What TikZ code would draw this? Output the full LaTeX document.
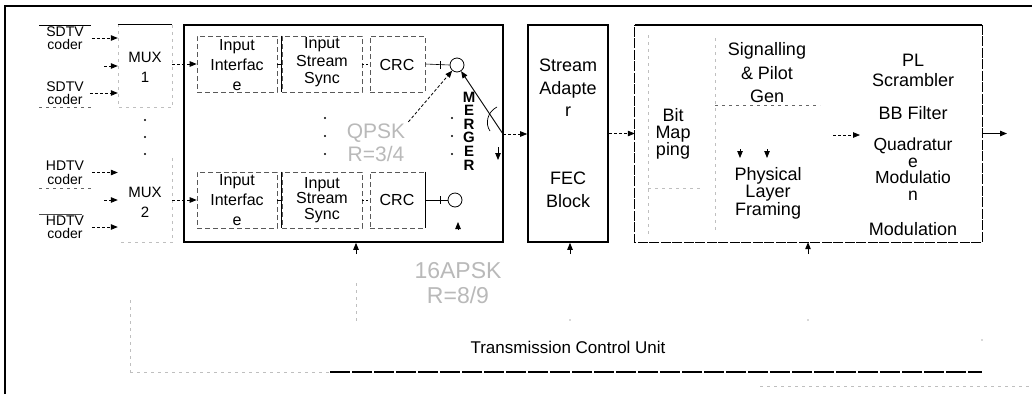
\documentclass[tikz,border=0pt]{standalone}
\usepackage{fontspec}
\setmainfont{Liberation Sans}
\usetikzlibrary{arrows.meta,calc}
\newcommand{\fsz}[2]{\fontsize{#1}{#2}\selectfont}
\begin{document}
\begin{tikzpicture}[x=1pt,y=-1pt,
  lbl/.style={align=center,inner sep=0pt},
  blk/.style={inner sep=0pt,line width=1.6pt},
  subbox/.style={draw=black!65,line width=0.6pt,dash pattern=on 5pt off 3pt,inner sep=0pt},
  faint/.style={draw=gray!50,line width=0.6pt,dash pattern=on 3pt off 4pt},
  arr/.style={-{Triangle[length=7pt,width=5.5pt]},line width=0.8pt},
  darr/.style={arr,dash pattern=on 3pt off 2pt},
  ghost/.style={lbl,text=gray!55},
]
\useasboundingbox (0,0) rectangle (1032,394);

% outer frame
\draw[line width=1.4pt] (5,394) -- (5,6) -- (1032,6);
\draw[faint] (760,386) -- (1032,386);

% coders
\node[lbl,font=\fsz{14}{13.5}] (sd1) at (65,38) {SDTV\\coder};
\node[lbl,font=\fsz{14}{13.5}] (sd2) at (65,93) {SDTV\\coder};
\node[lbl,font=\fsz{14}{14}] (hd1) at (65,172.5) {HDTV\\coder};
\node[lbl,font=\fsz{14}{13.5}] (hd2) at (65,227) {HDTV\\coder};
\draw[line width=0.8pt] (39,25) -- (91,25);
\draw[faint,draw=black!60] (39,107) -- (91,107);
\draw[faint,draw=black!60] (39,188) -- (91,188);
\draw[line width=0.6pt,draw=black!70] (39,214) -- (82,214);

% multiplexers
\node[inner sep=0pt,minimum width=54pt,minimum height=82pt] (mux1) at (145,66) {};
\draw[faint] (mux1.north east) -- (mux1.south east) -- (mux1.south west) -- (mux1.north west);
\draw[line width=0.8pt] (mux1.north west) -- (mux1.north east);
\node[lbl,font=\fsz{15}{20}] (mux1t) at (145,67) {MUX\\1};
\node[inner sep=0pt,minimum width=54pt,minimum height=84pt] (mux2) at (145,200) {};
\draw[faint] (mux2.north east) -- (mux2.south east) -- (mux2.south west);
\node[lbl,font=\fsz{15}{20}] (mux2t) at (145,202) {MUX\\2};
\foreach \y in {120,137,154} \fill (145,\y) circle (1.2pt);

% coder to mux arrows
\draw[darr] ([xshift=8pt]sd1.east) -- (sd1.east -| mux1.west);
\draw[darr] ([xshift=6pt]sd2.east) -- (sd2.east -| mux1.west);
\draw[darr] ([xshift=8pt]hd1.east) -- (hd1.east -| mux2.west);
\draw[darr] ([xshift=8pt]hd2.east) -- (hd2.east -| mux2.west);
\coordinate (m1in) at (104,66);
\coordinate (m2in) at (104,200);
\draw[darr] (m1in) -- (m1in -| mux1.west);
\draw[darr] (m2in) -- (m2in -| mux2.west);

% input processing block
\node[draw,blk,minimum width=319pt,minimum height=217pt] (b1) at (343.5,133.5) {};
\node[subbox,minimum width=80pt,minimum height=56pt] (ii1) at (237,64) {};
\node[subbox,minimum width=80pt,minimum height=56pt] (iss1) at (322,64) {};
\node[subbox,minimum width=55pt,minimum height=56pt] (crc1) at (397.5,64) {};
\node[subbox,minimum width=80pt,minimum height=56pt] (ii2) at (237,200) {};
\node[subbox,minimum width=80pt,minimum height=56pt] (iss2) at (322,200) {};
\node[subbox,minimum width=55pt,minimum height=56pt] (crc2) at (397.5,200) {};
\draw[line width=0.8pt] (iss1.north west) -- (iss1.south west);
\draw[line width=0.8pt] (iss2.north west) -- (iss2.south west);
\draw[line width=0.8pt] (crc2.north east) -- (crc2.south east);
\node[lbl,font=\fsz{16}{20}] (ii1t) at (237,65) {Input\\Interfac\\e};
\node[lbl,font=\fsz{16}{17.5}] (iss1t) at (322,62.5) {Input\\Stream\\Sync};
\node[lbl,font=\fsz{16}{20}] (crc1t) at (397,65) {CRC};
\node[lbl,font=\fsz{16}{20}] (ii2t) at (237,200) {Input\\Interfac\\e};
\node[lbl,font=\fsz{16}{15.5}] (iss2t) at (322,200) {Input\\Stream\\Sync};
\node[lbl,font=\fsz{16}{20}] (crc2t) at (397,200) {CRC};
\draw[darr] (ii1.west -| mux1.east) -- (ii1.west);
\draw[darr] (ii2.west -| mux2.east) -- (ii2.west);

% merger
\node[circle,draw,line width=0.8pt,minimum size=14pt,inner sep=0pt] (c1) at (457,65) {};
\node[circle,draw,line width=0.8pt,minimum size=14pt,inner sep=0pt] (c2) at (455,200) {};
\draw[line width=0.6pt] (ii1.east) -- (iss1.west);
\draw[line width=0.6pt,dash pattern=on 2pt off 2pt] (iss1.east) -- (crc1.west);
\draw[line width=0.6pt] (crc1.east) -- (c1.west);
\draw[line width=0.6pt] (ii2.east) -- (iss2.west);
\draw[line width=0.6pt,dash pattern=on 2pt off 2pt] (iss2.east) -- (crc2.west);
\draw[line width=0.6pt] (crc2.east) -- (c2.west);
\draw[line width=0.6pt] (440,61) -- (440,69);
\draw[line width=0.6pt] (440,196) -- (440,204);
\foreach \y in {118,136,154} {\fill (325,\y) circle (1.2pt); \fill (452,\y) circle (1.2pt);}
\node[ghost,font=\fsz{21}{23}] (qp) at (376,143) {QPSK\\R=3/4};
\node[lbl,font=\fsz{15}{13.6}\bfseries] (mg) at (469,131) {M\\E\\R\\G\\E\\R};
\coordinate (sw) at (503,134);
\draw[arr,line width=0.9pt] (sw) -- (c1);
\draw[darr] ([shift={(3,-2)}]qp.north east) -- (c1);
\draw[line width=0.7pt] (497,107) .. controls (487,112) and (485,124) .. (490,131);
\coordinate (dn) at (498,147);
\draw[arr] (dn) -- ++(0,13);
\coordinate (c2a) at (458,230);
\draw[arr] (c2a) -- ++(0,-8);

% stream adapter
\node[draw,blk,minimum width=80pt,minimum height=217pt] (sa) at (568,133.5) {};
\node[lbl,font=\fsz{18}{22.5}] (sat) at (568,88) {Stream\\Adapte\\r};
\node[lbl,font=\fsz{18}{23}] (fec) at (568,190) {FEC\\Block};
\draw[darr] (sw) -- (sw -| sa.west);

% physical layer block
\node[inner sep=0pt,minimum width=347pt,minimum height=217pt] (b3) at (808.5,133.5) {};
\draw[line width=1.3pt,dash pattern=on 10pt off 1.5pt] (b3.north east) -- (b3.south east) -- (b3.south west) -- (b3.north west);
\draw[line width=1.6pt] (b3.north west) -- (b3.north east);
\draw[darr] (sa.east) -- (b3.west);
\node[lbl,font=\fsz{18}{17}] (bm) at (673,134) {Bit\\Map\\ping};
\node[lbl,font=\fsz{18}{23.5}] (sg) at (767,73) {Signalling\\\& Pilot\\Gen};
\node[lbl,font=\fsz{18}{17.5}] (pf) at (768,193) {Physical\\Layer\\Framing};
\node[lbl,font=\fsz{18}{20}] (pl) at (913,70) {PL\\Scrambler};
\node[lbl,font=\fsz{18}{20}] (bb) at (913,113) {BB Filter};
\node[lbl,font=\fsz{17.5}{16.5}] (qm) at (913,169) {Quadratur\\e\\Modulatio\\n};
\node[lbl,font=\fsz{18}{20}] (md) at (913,229) {Modulation};
\draw[faint] (715,38) -- (715,232);
\draw[faint] (648,35) -- (648,236);
\draw[faint,draw=black!60] (715,105) -- (820,105);
\draw[faint] (648,188) -- (700,188);
\foreach \x in {740,767} \draw[arr] (\x,149) -- (\x,158);
\coordinate (ia) at (833,135);
\draw[darr] (ia) -- ++(27,0);
\coordinate (out) at (1007,133.5);
\draw[arr,line width=1pt] (b3.east) -- (out);

% transmission control unit
\node[lbl,font=\fsz{17}{20}] (tcu) at (568,347) {Transmission Control Unit};
\node[ghost,font=\fsz{23}{25}] (ap) at (458,283) {16APSK\\R=8/9};
\draw[faint] (130,372) -- (330,372);
\draw[line width=1.1pt,dash pattern=on 20pt off 2pt] (330,372) -- (982,372);
\draw[faint] (130,300) -- (130,372);
\coordinate (u1) at (356,254);
\coordinate (u2) at (570,254);
\coordinate (u3) at (808,254);
\draw[arr,line width=0.9pt] (u1) -- (u1 |- b1.south);
\draw[arr,line width=0.9pt] (u2) -- (u2 |- sa.south);
\draw[arr,line width=0.9pt] (u3) -- (u3 |- b3.south);
\draw[faint] (356,283) -- (356,322);
\fill[gray!60] (570,320) circle (0.8pt) (808,320) circle (0.8pt) (982,340) circle (0.8pt);
\end{tikzpicture}
\end{document}
